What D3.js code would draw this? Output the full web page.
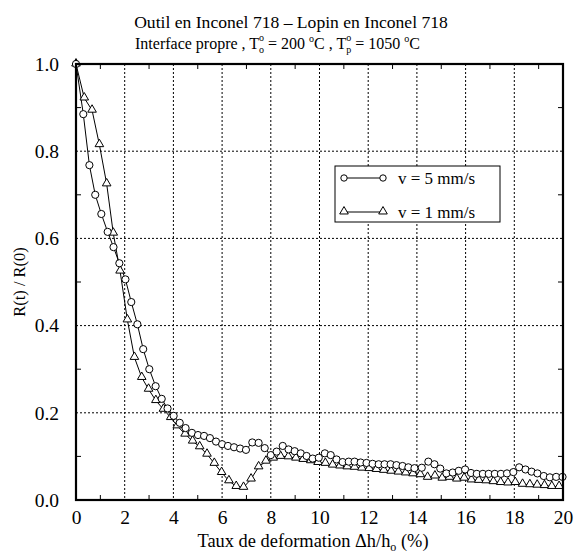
<!DOCTYPE html>
<html>
<head>
<meta charset="utf-8">
<script src="https://cdn.jsdelivr.net/npm/d3@7"></script>
<style>
  body { margin: 0; background: #fff; }
  svg text { font-family: "Liberation Serif", "Times New Roman", serif; fill: #000; }
</style>
</head>
<body>
<script>
'use strict';

// v = 5 mm/s (circles)  [deformation %, R(t)/R(0)]
var seriesV5 = [
    [0, 1.0], [0.30, 0.885], [0.55, 0.768], [0.79, 0.700], [1.04, 0.656],
    [1.30, 0.615], [1.54, 0.580], [1.78, 0.543], [2.03, 0.506], [2.27, 0.454],
    [2.52, 0.403], [2.76, 0.346], [3.01, 0.300], [3.27, 0.261], [3.52, 0.232],
    [3.76, 0.210], [4.01, 0.193], [4.26, 0.177], [4.50, 0.165], [4.76, 0.154],
    [5.01, 0.149], [5.26, 0.147], [5.50, 0.142], [5.75, 0.134], [6.00, 0.128],
    [6.24, 0.124], [6.49, 0.121], [6.74, 0.118], [6.98, 0.115], [7.24, 0.132],
    [7.50, 0.131], [7.75, 0.119], [8.00, 0.103], [8.24, 0.111], [8.49, 0.124],
    [8.73, 0.116], [8.98, 0.112], [9.23, 0.107], [9.47, 0.101], [9.72, 0.095],
    [9.97, 0.097], [10.22, 0.107], [10.46, 0.103], [10.70, 0.093], [10.95, 0.087],
    [11.20, 0.088], [11.44, 0.088], [11.69, 0.086], [11.93, 0.085], [12.18, 0.083],
    [12.43, 0.082], [12.67, 0.082], [12.92, 0.082], [13.16, 0.080], [13.41, 0.078],
    [13.65, 0.075], [13.90, 0.073], [14.20, 0.074], [14.47, 0.088], [14.72, 0.082],
    [14.96, 0.072], [15.21, 0.061], [15.47, 0.063], [15.72, 0.067], [15.98, 0.070],
    [16.22, 0.062], [16.46, 0.060], [16.71, 0.060], [16.95, 0.060], [17.20, 0.060],
    [17.45, 0.060], [17.70, 0.061], [17.96, 0.064], [18.20, 0.075], [18.46, 0.070],
    [18.71, 0.065], [18.95, 0.061], [19.21, 0.055], [19.46, 0.052], [19.72, 0.053],
    [19.98, 0.053]
];

// v = 1 mm/s (triangles)
var seriesV1 = [
    [0, 1.0], [0.34, 0.922], [0.66, 0.894], [0.96, 0.815], [1.26, 0.725],
    [1.53, 0.612], [1.81, 0.525], [2.11, 0.413], [2.40, 0.327], [2.70, 0.281],
    [2.98, 0.254], [3.28, 0.228], [3.59, 0.208], [3.89, 0.189], [4.16, 0.170],
    [4.48, 0.151], [4.79, 0.135], [5.08, 0.122], [5.38, 0.105], [5.68, 0.084],
    [5.98, 0.063], [6.28, 0.044], [6.58, 0.031], [6.88, 0.029], [7.19, 0.048],
    [7.50, 0.076], [7.80, 0.089], [8.10, 0.096], [8.40, 0.100], [8.72, 0.099],
    [9.03, 0.096], [9.33, 0.093], [9.64, 0.090], [9.94, 0.086], [10.24, 0.084],
    [10.54, 0.080], [10.84, 0.078], [11.14, 0.076], [11.44, 0.075], [11.74, 0.073],
    [12.04, 0.072], [12.34, 0.070], [12.64, 0.068], [12.94, 0.066], [13.24, 0.064],
    [13.54, 0.062], [13.84, 0.060], [14.14, 0.058], [14.44, 0.052], [14.74, 0.055],
    [15.04, 0.050], [15.34, 0.052], [15.64, 0.048], [15.94, 0.050], [16.24, 0.046],
    [16.54, 0.045], [16.84, 0.044], [17.14, 0.042], [17.44, 0.040], [17.74, 0.039],
    [18.04, 0.040], [18.34, 0.036], [18.64, 0.035], [18.94, 0.034], [19.24, 0.033],
    [19.54, 0.031], [19.84, 0.031]
];

var xTicks = [0, 2, 4, 6, 8, 10, 12, 14, 16, 18, 20];
var xMinorTicks = [1, 3, 5, 7, 9, 11, 13, 15, 17, 19];
var yTicks = [0, 0.2, 0.4, 0.6, 0.8, 1.0];
var yMinorTicks = [0.1, 0.3, 0.5, 0.7, 0.9];
var legendLabels = ['v = 5 mm/s', 'v = 1 mm/s'];

var width = 583, height = 554;
var plotLeft = 76, plotRight = 563, plotTop = 64, plotBottom = 500;

var svg = d3.select('body').append('svg')
    .attr('width', width)
    .attr('height', height);

var x = d3.scaleLinear().domain([0, 20]).range([plotLeft, plotRight]);
var y = d3.scaleLinear().domain([0, 1]).range([plotBottom, plotTop]);

// dotted grid
svg.append('g').selectAll('line')
    .data(xTicks.slice(1, -1))
    .enter().append('line')
    .attr('x1', function (d) { return x(d); })
    .attr('x2', function (d) { return x(d); })
    .attr('y1', plotTop).attr('y2', plotBottom)
    .style('stroke', '#000').style('stroke-width', 1)
    .style('stroke-dasharray', '2,2');

svg.append('g').selectAll('line')
    .data(yTicks.slice(1, -1))
    .enter().append('line')
    .attr('y1', function (d) { return y(d); })
    .attr('y2', function (d) { return y(d); })
    .attr('x1', plotLeft).attr('x2', plotRight)
    .style('stroke', '#000').style('stroke-width', 1)
    .style('stroke-dasharray', '2,2');

// minor ticks, inward on all four sides
var tickLen = 5;
var ticks = svg.append('g').style('stroke', '#000').style('stroke-width', 1);
xMinorTicks.forEach(function (d) {
    ticks.append('line').attr('x1', x(d)).attr('x2', x(d)).attr('y1', plotBottom).attr('y2', plotBottom - tickLen);
    ticks.append('line').attr('x1', x(d)).attr('x2', x(d)).attr('y1', plotTop).attr('y2', plotTop + tickLen);
});
yMinorTicks.forEach(function (d) {
    ticks.append('line').attr('y1', y(d)).attr('y2', y(d)).attr('x1', plotLeft).attr('x2', plotLeft + tickLen);
    ticks.append('line').attr('y1', y(d)).attr('y2', y(d)).attr('x1', plotRight).attr('x2', plotRight - tickLen);
});

// tick labels via axes
var xAxis = svg.append('g')
    .attr('transform', 'translate(0,' + plotBottom + ')')
    .call(d3.axisBottom(x).tickValues(xTicks).tickSize(0).tickPadding(10).tickFormat(d3.format('d')));
var yAxis = svg.append('g')
    .attr('transform', 'translate(' + plotLeft + ',0)')
    .call(d3.axisLeft(y).tickValues(yTicks).tickSize(0).tickPadding(17).tickFormat(d3.format('.1f')));
[xAxis, yAxis].forEach(function (a) {
    a.select('.domain').remove();
    a.selectAll('text')
        .style('font-family', '"Liberation Serif", serif')
        .style('font-size', '19.5px')
        .attr('fill', '#000');
});

// series
var line = d3.line()
    .x(function (d) { return x(d[0]); })
    .y(function (d) { return y(d[1]); });

svg.append('path').datum(seriesV1).attr('d', line)
    .style('fill', 'none').style('stroke', '#000').style('stroke-width', 1);
svg.append('path').datum(seriesV5).attr('d', line)
    .style('fill', 'none').style('stroke', '#000').style('stroke-width', 1);

var tri = d3.symbol().type(d3.symbolTriangle).size(32);

svg.append('g').selectAll('path')
    .data(seriesV1)
    .enter().append('path')
    .attr('d', tri)
    .attr('transform', function (d) { return 'translate(' + x(d[0]) + ',' + (y(d[1]) - 0.5) + ')'; })
    .style('fill', '#fff').style('stroke', '#000').style('stroke-width', 1);

svg.append('g').selectAll('circle')
    .data(seriesV5)
    .enter().append('circle')
    .attr('cx', function (d) { return x(d[0]); })
    .attr('cy', function (d) { return y(d[1]); })
    .attr('r', 3.6)
    .style('fill', '#fff').style('stroke', '#000').style('stroke-width', 1);

// frame
svg.append('rect')
    .attr('x', plotLeft).attr('y', plotTop)
    .attr('width', plotRight - plotLeft).attr('height', plotBottom - plotTop)
    .style('fill', 'none').style('stroke', '#000').style('stroke-width', 2.2);

// legend
var legend = svg.append('g');
legend.append('rect')
    .attr('x', 335).attr('y', 166).attr('width', 165).attr('height', 56)
    .style('fill', '#fff').style('stroke', '#000').style('stroke-width', 1);
var legendY = [178, 212];
legendLabels.forEach(function (label, i) {
    var ly = legendY[i];
    legend.append('line').attr('x1', 344).attr('x2', 383).attr('y1', ly).attr('y2', ly)
        .style('stroke', '#000').style('stroke-width', 1);
    [344, 383].forEach(function (mx) {
        if (i === 0) {
            legend.append('circle').attr('cx', mx).attr('cy', ly).attr('r', 3.2)
                .style('fill', '#fff').style('stroke', '#000');
        } else {
            legend.append('path').attr('d', tri)
                .attr('transform', 'translate(' + mx + ',' + (ly - 0.5) + ')')
                .style('fill', '#fff').style('stroke', '#000');
        }
    });
    legend.append('text').attr('x', 398).attr('y', ly + 6)
        .style('font-size', '17px').text(label);
});

// titles
svg.append('text').attr('x', 291).attr('y', 28).attr('text-anchor', 'middle')
    .style('font-size', '17.6px').text('Outil en Inconel 718 \u2013 Lopin en Inconel 718');

var sub = svg.append('text').attr('x', 135).attr('y', 49).style('font-size', '16px');
sub.append('tspan').text('Interface propre  , T');
sub.append('tspan').attr('dy', 4).style('font-size', '10px').text('o');
sub.append('tspan').attr('dx', -5).attr('dy', -12).style('font-size', '10px').text('o');
sub.append('tspan').attr('dy', 8).text(' = 200 ');
sub.append('tspan').attr('dy', -7).style('font-size', '10px').text('o');
sub.append('tspan').attr('dy', 7).text('C , T');
sub.append('tspan').attr('dy', 4).style('font-size', '10px').text('p');
sub.append('tspan').attr('dx', -5).attr('dy', -12).style('font-size', '10px').text('o');
sub.append('tspan').attr('dy', 8).text(' = 1050 ');
sub.append('tspan').attr('dy', -7).style('font-size', '10px').text('o');
sub.append('tspan').attr('dy', 7).text('C');

// axis titles
var xl = svg.append('text').attr('x', 313).attr('y', 547).attr('text-anchor', 'middle')
    .style('font-size', '18.4px');
xl.append('tspan').text('Taux de deformation \u0394h/h');
xl.append('tspan').attr('dy', 4).style('font-size', '12px').text('o');
xl.append('tspan').attr('dy', -4).text(' (%)');

svg.append('text')
    .attr('transform', 'translate(25,282) rotate(-90)')
    .attr('text-anchor', 'middle')
    .style('font-size', '16.5px')
    .text('R(t) / R(0)');
</script>
</body>
</html>
